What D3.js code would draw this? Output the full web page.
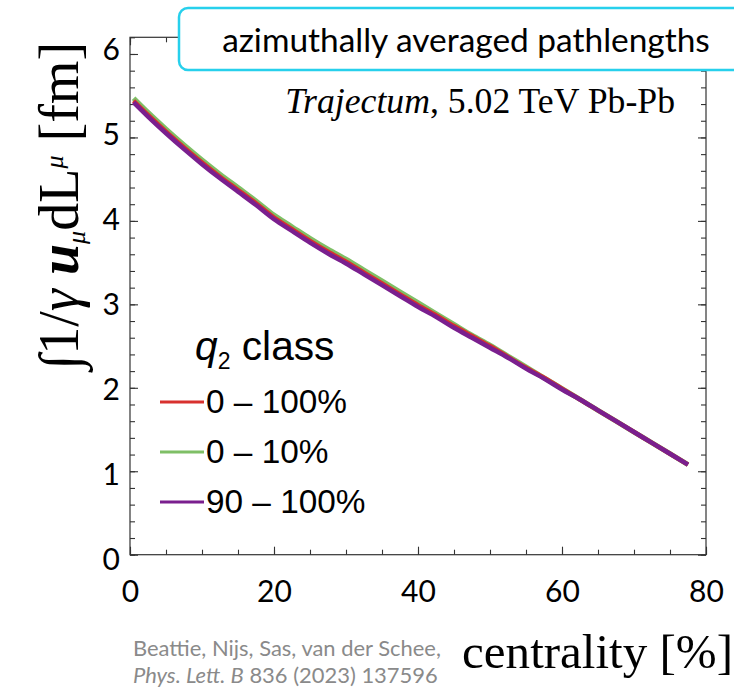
<!DOCTYPE html>
<html><head><meta charset="utf-8">
<script src="https://cdn.jsdelivr.net/npm/d3@7/dist/d3.min.js"></script>
<style>body{margin:0;background:#fff} svg{display:block}</style>
</head><body>
<svg id="c" width="734" height="689"></svg>
<script>
// ---- data ----
const centrality = [0.5,2.5,5,7.5,10,12.5,15,17.5,20,22.5,25,27.5,30,32.5,35,37.5,40,42.5,45,47.5,50,52.5,55,57.5,60,62.5,65,67.5,70,72.5,75,77.5];
const q2All  = [5.44,5.27,5.07,4.88,4.70,4.53,4.37,4.21,4.04,3.90,3.76,3.63,3.51,3.38,3.25,3.12,2.99,2.87,2.74,2.62,2.50,2.37,2.24,2.12,1.99,1.86,1.73,1.60,1.47,1.34,1.21,1.08];
const q2Low  = [5.47,5.30,5.10,4.91,4.73,4.56,4.40,4.24,4.07,3.93,3.79,3.66,3.54,3.41,3.28,3.15,3.02,2.89,2.76,2.63,2.51,2.38,2.25,2.12,1.99,1.86,1.73,1.60,1.47,1.34,1.21,1.08];
const q2High = [5.42,5.25,5.05,4.86,4.68,4.51,4.35,4.19,4.02,3.88,3.74,3.61,3.49,3.36,3.23,3.10,2.97,2.85,2.72,2.60,2.48,2.36,2.23,2.11,1.98,1.86,1.73,1.60,1.47,1.34,1.21,1.08];
const seriesNames  = ["0 \u2013 100%", "0 \u2013 10%", "90 \u2013 100%"];
const seriesColors = ["#d8312e", "#7fbf66", "#7a1f8e"];
const xTicks = [0,20,40,60,80];
const yTicks = [0,1,2,3,4,5,6];
const xTickLabels = ["0","20","40","60","80"];
const yTickLabels = ["0","1","2","3","4","5","6"];

const svg = d3.select("#c");
const x = d3.scaleLinear().domain([0,80]).range([130,706]);
const y = d3.scaleLinear().domain([0,6.2]).range([554.7,37.3]);
// tick labels of the reference sit on a slightly stretched grid
const yLab = d3.scaleLinear().domain([0,6]).range([560,50]);

function fit(sel, w){
  const L = sel.node().getComputedTextLength();
  const fs = parseFloat(sel.attr("font-size"));
  sel.attr("font-size", fs*w/L);
}

const axisColor = "#333";
const minorX = d3.range(0,80.001,5);
const minorY = d3.range(0,6.2001,0.2);
function styleAxis(g){ g.select(".domain").remove(); g.selectAll("line").attr("stroke",axisColor).attr("stroke-width",1.1); }

svg.append("g").attr("transform",`translate(0,${y(0)})`).call(d3.axisBottom(x).tickValues(minorX).tickSize(-5).tickFormat("")).call(styleAxis);
svg.append("g").attr("transform",`translate(0,${y(6.2)})`).call(d3.axisTop(x).tickValues(minorX).tickSize(-5).tickFormat("")).call(styleAxis);
svg.append("g").attr("transform",`translate(${x(0)},0)`).call(d3.axisLeft(y).tickValues(minorY).tickSize(-5).tickFormat("")).call(styleAxis);
svg.append("g").attr("transform",`translate(${x(80)},0)`).call(d3.axisRight(y).tickValues(minorY).tickSize(-5).tickFormat("")).call(styleAxis);
svg.append("g").attr("transform",`translate(0,${y(6.2)})`).call(d3.axisTop(x).tickValues(xTicks).tickSize(-8).tickFormat("")).call(styleAxis);
svg.append("g").attr("transform",`translate(${x(80)},0)`).call(d3.axisRight(y).tickValues(yTicks).tickSize(-8).tickFormat("")).call(styleAxis);
svg.append("g").attr("transform",`translate(${x(0)},0)`).call(d3.axisLeft(y).tickValues(yTicks).tickSize(-8).tickFormat("")).call(styleAxis);
const gx = svg.append("g").attr("transform",`translate(0,${y(0)})`)
  .call(d3.axisBottom(x).tickValues(xTicks).tickSize(-8).tickPadding(26).tickFormat((d,i)=>xTickLabels[i])).call(styleAxis);
gx.selectAll("text").attr("font-family","Lato, 'Open Sans', sans-serif").attr("font-size",30).attr("fill","#000");
const gy = svg.append("g").attr("transform",`translate(${x(0)},0)`)
  .call(d3.axisLeft(yLab).tickValues(yTicks).tickSize(0).tickPadding(10).tickFormat((d,i)=>yTickLabels[i]));
gy.select(".domain").remove();
gy.selectAll("text").attr("font-family","Lato, 'Open Sans', sans-serif").attr("font-size",30).attr("fill","#000");

// frame
svg.append("rect").attr("x",x(0)).attr("y",y(6.2)).attr("width",x(80)-x(0)).attr("height",y(0)-y(6.2))
  .attr("fill","none").attr("stroke",axisColor).attr("stroke-width",1.2);

// lines
const line = d3.line().x((d,i)=>x(centrality[i])).y(d=>y(d)).curve(d3.curveMonotoneX);
const order = [[q2Low,1,5],[q2All,0,4.5],[q2High,2,4.5]];
order.forEach(([vals,ci,w])=>{
  svg.append("path").datum(vals).attr("d",line).attr("fill","none")
    .attr("stroke",seriesColors[ci]).attr("stroke-width",w).attr("stroke-linejoin","round").attr("stroke-linecap","butt");
});

// legend
const legFont = "'Liberation Sans', Arial, sans-serif";
const lt = svg.append("text").attr("x",195).attr("y",360).attr("font-family",legFont).attr("font-size",34).attr("fill","#000");
lt.append("tspan").attr("font-style","italic").text("q");
lt.append("tspan").attr("font-size",23).attr("dy",9).text("2");
lt.append("tspan").attr("dy",-9).text(" class");
fit(lt, 142);
const legTexts = [];
seriesNames.forEach((n,i)=>{
  const yy = 402 + i*50;
  svg.append("line").attr("x1",160).attr("x2",204).attr("y1",yy).attr("y2",yy)
    .attr("stroke",seriesColors[i]).attr("stroke-width",3);
  legTexts.push(svg.append("text").attr("x",206).attr("y",yy+11).attr("font-family",legFont).attr("font-size",31).attr("fill","#000").text(n));
});
fit(legTexts[0], 141);
legTexts.forEach(t=>t.attr("font-size", legTexts[0].attr("font-size")));

// Trajectum label
const tj = svg.append("text").attr("x",675).attr("y",113).attr("text-anchor","end")
  .attr("font-family","'Liberation Serif', 'Times New Roman', serif").attr("font-size",30).attr("fill","#000");
tj.append("tspan").attr("font-style","italic").text("Trajectum");
tj.append("tspan").text(", 5.02 TeV Pb-Pb");
fit(tj, 390);

// title box
svg.append("rect").attr("x",179).attr("y",8).attr("width",620).attr("height",62).attr("rx",9)
  .attr("fill","#fff").attr("stroke","#27d0ec").attr("stroke-width",2.5);
const tt = svg.append("text").attr("x",466).attr("y",52).attr("text-anchor","middle")
  .attr("font-family","Lato, 'Open Sans', sans-serif").attr("font-size",30).attr("fill","#000")
  .text("azimuthally averaged pathlengths");
fit(tt, 488);

// y axis label
const yl = svg.append("text").attr("transform","translate(78,206) rotate(-90)").attr("text-anchor","middle")
  .attr("font-family","'Liberation Serif', 'DejaVu Serif', serif").attr("font-size",40).attr("fill","#000");
yl.append("tspan").attr("font-size",56).text("\u222B");
yl.append("tspan").text("1/");
yl.append("tspan").attr("font-style","italic").text("\u03B3");
yl.append("tspan").text(" ");
yl.append("tspan").attr("font-style","italic").attr("font-weight","bold").text("u");
yl.append("tspan").attr("font-style","italic").attr("font-size",26).attr("dy",7).text("\u03BC");
yl.append("tspan").attr("dy",-7).text("dL");
yl.append("tspan").attr("font-style","italic").attr("font-size",26).attr("dy",-15).text("\u03BC");
yl.append("tspan").attr("dy",15).text(" [fm]");
fit(yl, 345);

// x axis label
const xl = svg.append("text").attr("x",733).attr("y",668).attr("text-anchor","end")
  .attr("font-family","'Liberation Serif', 'Times New Roman', serif").attr("font-size",38).attr("fill","#000")
  .text("centrality [%]");
fit(xl, 271);

// citation
const citFont = "Lato, 'Open Sans', sans-serif";
const c1 = svg.append("text").attr("x",133).attr("y",656).attr("font-family",citFont).attr("font-size",20).attr("fill","#8a8a8a")
  .text("Beattie, Nijs, Sas, van der Schee,");
fit(c1, 308);
const c2 = svg.append("text").attr("x",133).attr("y",683).attr("font-family",citFont).attr("font-size",parseFloat(c1.attr("font-size"))).attr("fill","#8a8a8a");
c2.append("tspan").attr("font-style","italic").text("Phys. Lett. B");
c2.append("tspan").text(" 836 (2023) 137596");
</script>
</body></html>
